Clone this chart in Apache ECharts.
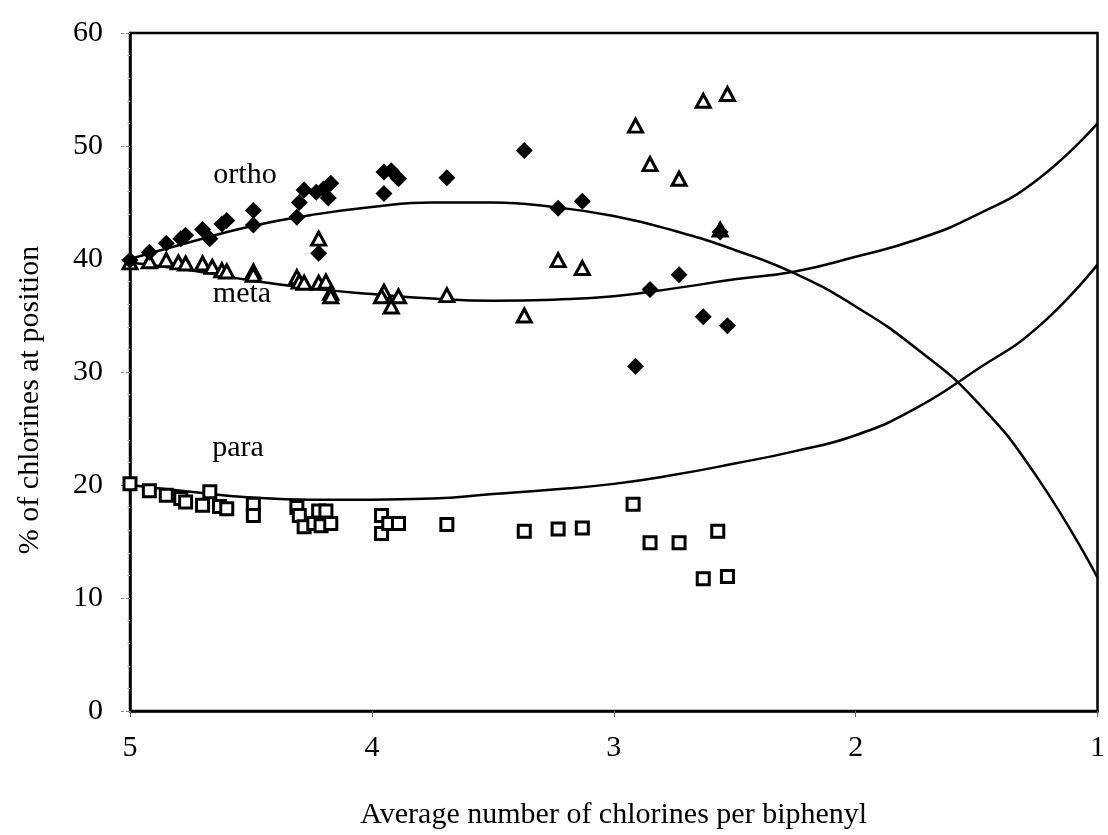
<!DOCTYPE html>
<html>
<head>
<meta charset="utf-8">
<script src="https://cdn.jsdelivr.net/npm/echarts@6/dist/echarts.min.js"></script>
<style>
html,body{margin:0;padding:0;background:#fff;}
#main{width:1108px;height:835px;}
</style>
</head>
<body>
<div id="main"></div>
<script>
// measured points [avg Cl per biphenyl, % at position]
var orthoPts = [
  [5.00, 39.9], [4.92, 40.6], [4.85, 41.4], [4.79, 41.8], [4.77, 42.1], [4.70, 42.6],
  [4.67, 41.8], [4.62, 43.1], [4.60, 43.4], [4.49, 44.3], [4.49, 43.0], [4.31, 43.7],
  [4.30, 45.0], [4.28, 46.1], [4.23, 45.9], [4.20, 46.2], [4.17, 46.7], [4.18, 45.4],
  [4.22, 40.5], [3.95, 47.7], [3.92, 47.8], [3.89, 47.1], [3.95, 45.8], [3.69, 47.2],
  [3.37, 49.6], [3.23, 44.5], [3.13, 45.1], [2.91, 30.5], [2.85, 37.3], [2.73, 38.6],
  [2.63, 34.9], [2.56, 42.4], [2.53, 34.1]
];
var metaPts = [
  [5.00, 39.7], [4.92, 39.8], [4.85, 39.9], [4.80, 39.7], [4.77, 39.6], [4.70, 39.6],
  [4.66, 39.3], [4.62, 39.0], [4.60, 38.9], [4.49, 38.9], [4.49, 38.6], [4.31, 38.4],
  [4.30, 38.0], [4.28, 37.9], [4.22, 41.8], [4.22, 37.9], [4.19, 38.0], [4.17, 37.0],
  [4.17, 36.7], [3.95, 37.1], [3.96, 36.7], [3.92, 35.8], [3.89, 36.7], [3.69, 36.8],
  [3.37, 35.0], [3.23, 39.9], [3.13, 39.2], [2.91, 51.8], [2.85, 48.4], [2.73, 47.1],
  [2.63, 54.0], [2.56, 42.6], [2.53, 54.6]
];
var paraPts = [
  [5.00, 20.1], [4.92, 19.5], [4.85, 19.1], [4.79, 18.8], [4.77, 18.5], [4.70, 18.2],
  [4.67, 19.4], [4.63, 18.1], [4.60, 17.9], [4.49, 18.3], [4.49, 17.3], [4.31, 18.0],
  [4.30, 17.3], [4.28, 16.3], [4.22, 17.7], [4.19, 17.7], [4.24, 16.6], [4.21, 16.4],
  [4.17, 16.6], [3.96, 17.3], [3.96, 15.7], [3.93, 16.6], [3.89, 16.6], [3.69, 16.5],
  [3.37, 15.9], [3.23, 16.1], [3.13, 16.2], [2.92, 18.3], [2.85, 14.9], [2.73, 14.9],
  [2.57, 15.9], [2.63, 11.7], [2.53, 11.9]
];

// fitted trend lines
var orthoFit = [
  [5.0, 40.0], [4.75, 41.5], [4.5, 42.9], [4.25, 43.9], [4.0, 44.6], [3.75, 45.0],
  [3.5, 45.0], [3.25, 44.6], [3.0, 43.8], [2.75, 42.5], [2.5, 40.8], [2.25, 38.7],
  [2.0, 35.8], [1.75, 32.1], [1.5, 27.4], [1.25, 20.7], [1.0, 11.8]
];
var metaFit = [
  [5.0, 39.7], [4.75, 39.0], [4.5, 38.1], [4.25, 37.4], [4.0, 36.9], [3.75, 36.5],
  [3.5, 36.3], [3.25, 36.4], [3.0, 36.7], [2.75, 37.4], [2.5, 38.2], [2.25, 38.9],
  [2.0, 40.2], [1.75, 41.7], [1.5, 43.9], [1.25, 47.0], [1.0, 52.0]
];
var paraFit = [
  [5.0, 20.0], [4.75, 19.4], [4.5, 18.9], [4.25, 18.7], [4.0, 18.7], [3.75, 18.8],
  [3.5, 19.2], [3.25, 19.6], [3.0, 20.1], [2.75, 20.9], [2.5, 21.9], [2.25, 23.0],
  [2.0, 24.4], [1.75, 26.8], [1.5, 30.2], [1.25, 33.9], [1.0, 39.5]
];

var xTicks = [5, 4, 3, 2, 1];
var yTicks = [0, 10, 20, 30, 40, 50, 60];
var curveLabels = ['ortho', 'meta', 'para'];

var myChart = echarts.init(document.getElementById('main'));
var serif = '"Liberation Serif", "DejaVu Serif", serif';
var font = '30px ' + serif;

function fitLine(name, data) {
  return {
    name: name, type: 'line', data: data, smooth: 0.5, symbol: 'none',
    lineStyle: { color: '#000', width: 2.5 }, z: 2, silent: true
  };
}

var option = {
  animation: false,
  backgroundColor: '#fff',
  grid: {
    left: 130, right: 4, top: 33, bottom: 122,
    show: true, borderColor: '#000', borderWidth: 2.5, backgroundColor: 'transparent'
  },
  xAxis: {
    type: 'value', min: 1, max: 5, interval: 1, inverse: true,
    name: 'Average number of chlorines per biphenyl',
    nameLocation: 'middle', nameGap: 89,
    nameTextStyle: { fontFamily: serif, fontSize: 30, color: '#000' },
    axisLine: { lineStyle: { color: '#000', width: 2.5 } },
    axisTick: { show: true, length: 6, lineStyle: { color: '#666' } },
    axisLabel: {
      margin: 22, fontFamily: serif, fontSize: 30, color: '#000',
      formatter: function (v) { return xTicks.indexOf(v) >= 0 ? String(v) : ''; }
    },
    splitLine: { show: false }
  },
  yAxis: {
    type: 'value', min: 0, max: 60, interval: 10,
    axisLine: { lineStyle: { color: '#000', width: 2.5 } },
    axisTick: { show: true, length: 9, lineStyle: { color: '#888', type: 'dashed' } },
    minorTick: { show: true, splitNumber: 5, length: 3, lineStyle: { color: '#ccc' } },
    axisLabel: {
      margin: 27, fontFamily: serif, fontSize: 30, color: '#000',
      formatter: function (v) { return yTicks.indexOf(v) >= 0 ? String(v) : ''; }
    },
    splitLine: { show: false }
  },
  graphic: [
    {
      type: 'text', x: 30, y: 400, rotation: Math.PI / 2,
      style: { text: '% of chlorines at position', font: font, fill: '#000', align: 'center', verticalAlign: 'middle' }
    },
    { type: 'text', x: 245, y: 175, style: { text: curveLabels[0], font: font, fill: '#000', align: 'center', verticalAlign: 'middle' } },
    { type: 'text', x: 242, y: 294, style: { text: curveLabels[1], font: font, fill: '#000', align: 'center', verticalAlign: 'middle' } },
    { type: 'text', x: 238, y: 448, style: { text: curveLabels[2], font: font, fill: '#000', align: 'center', verticalAlign: 'middle' } }
  ],
  series: [
    fitLine('ortho fit', orthoFit),
    fitLine('meta fit', metaFit),
    fitLine('para fit', paraFit),
    {
      name: 'para', type: 'scatter', data: paraPts, symbol: 'rect', symbolSize: 12,
      itemStyle: { color: '#fff', borderColor: '#000', borderWidth: 3, opacity: 1 }, z: 3
    },
    {
      name: 'meta', type: 'scatter', data: metaPts, symbol: 'triangle', symbolSize: [14, 13],
      itemStyle: { color: '#fff', borderColor: '#000', borderWidth: 3, opacity: 1 }, z: 4
    },
    {
      name: 'ortho', type: 'scatter', data: orthoPts, symbol: 'diamond', symbolSize: 17,
      itemStyle: { color: '#000', opacity: 1 }, z: 5
    }
  ]
};

myChart.setOption(option);
</script>
</body>
</html>
